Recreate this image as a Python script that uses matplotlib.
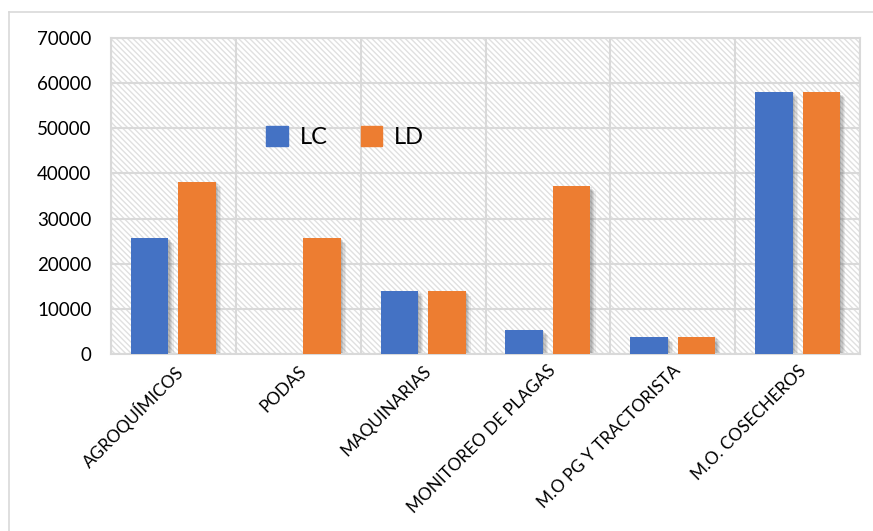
import matplotlib
matplotlib.use("Agg")
import matplotlib.pyplot as plt
import numpy as np
from matplotlib.patches import Rectangle
from matplotlib.lines import Line2D

categories = ["AGROQUÍMICOS", "PODAS", "MAQUINARIAS", "MONITOREO DE PLAGAS",
              "M.O PG Y TRACTORISTA", "M.O. COSECHEROS"]
lc_values = [25700, 0, 14000, 5300, 3800, 58000]
ld_values = [38100, 25700, 14000, 37200, 3800, 58000]
y_ticks = [0, 10000, 20000, 30000, 40000, 50000, 60000, 70000]

plt.rcParams["font.family"] = ["Lato", "DejaVu Sans"]
plt.rcParams["hatch.linewidth"] = 1.0

W, H = 873, 531
fig = plt.figure(figsize=(W / 100, H / 100), dpi=100)
ax = fig.add_axes([111 / W, 1 - 354 / H, (860 - 111) / W, (354 - 38) / H])

grid_c = "#d9d9d9"
blue = "#4472c4"
orange = "#ed7d31"

# hatched plot-area background
bg = Rectangle((0, 0), 1, 1, transform=ax.transAxes, facecolor="white",
               edgecolor="#e0e0e0", hatch="\\" * 6, linewidth=0, zorder=0)
ax.add_patch(bg)
ax.set_facecolor("white")

x = np.arange(len(categories))
width = 0.30
off = 0.19


def shadowed_bars(xs, vals, color):
    # soft drop shadow built from a few translucent offset layers
    for k, a in [(1.2, 0.10), (0.9, 0.12), (0.6, 0.14), (0.3, 0.14)]:
        ax.bar(xs + 0.035 * k, vals, width, bottom=-900 * k, color="#555555",
               alpha=a, linewidth=0, zorder=2)
    ax.bar(xs, vals, width, color=color, linewidth=0, zorder=3)


shadowed_bars(x - off, np.array(lc_values), blue)
shadowed_bars(x + off, np.array(ld_values), orange)

ax.set_xlim(-0.5, len(categories) - 0.5)
ax.set_ylim(0, 70000)
ax.set_yticks(y_ticks)
ax.set_yticklabels([str(v) for v in y_ticks], fontsize=13.5)
ax.set_xticks(x)
ax.set_xticklabels(categories, fontsize=12.3, rotation=45, ha="right",
                   va="top", rotation_mode="anchor")
ax.set_xticks(np.arange(-0.5, len(categories), 1.0), minor=True)
ax.tick_params(axis="both", which="both", length=0)
ax.tick_params(axis="y", pad=14)
ax.tick_params(axis="x", pad=6)

ax.grid(True, axis="y", which="major", color=grid_c, linewidth=1.5, zorder=1)
ax.grid(True, axis="x", which="minor", color=grid_c, linewidth=1.5, zorder=1)
ax.set_axisbelow(True)
for s in ax.spines.values():
    s.set_color(grid_c)
    s.set_linewidth(1.5)

# legend
handles = [Rectangle((0, 0), 1, 1, color=blue), Rectangle((0, 0), 1, 1, color=orange)]
leg = ax.legend(handles, ["LC", "LD"], loc="center", bbox_to_anchor=((345 - 111) / 749, (354 - 137) / 316),
                ncol=2, frameon=False, fontsize=17, handlelength=0.9, handleheight=0.9,
                handletextpad=0.5, columnspacing=1.4)

# outer chart frame
fig.add_artist(Line2D([9 / W, 9 / W], [0, 1 - 12 / H], color=grid_c, linewidth=1.2))
fig.add_artist(Line2D([9 / W, 1], [1 - 12 / H, 1 - 12 / H], color=grid_c, linewidth=1.2))

fig.savefig("out.png", dpi=100)
